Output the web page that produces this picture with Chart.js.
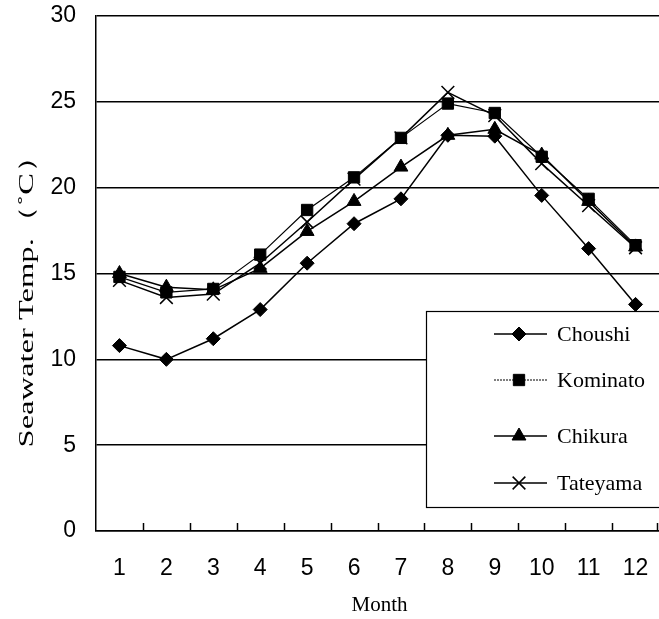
<!DOCTYPE html>
<html>
<head>
<meta charset="utf-8">
<script src="https://cdn.jsdelivr.net/npm/chart.js@4.4.1/dist/chart.umd.min.js"></script>
<style>
  html, body { margin: 0; padding: 0; background: #fff; }
  #wrap { width: 659px; height: 619px; position: relative; }
</style>
</head>
<body>
<div id="wrap"><canvas id="c" width="659" height="619"></canvas></div>
<script>
const months = ['1','2','3','4','5','6','7','8','9','10','11','12'];
const choushi  = [10.8, 10.0, 11.2, 12.9, 15.6, 17.9, 19.35, 23.05, 23.0, 19.55, 16.45, 13.2];
const kominato = [14.8, 13.9, 14.1, 16.1, 18.7, 20.6, 22.9, 24.9, 24.35, 21.8, 19.35, 16.65];
const chikura  = [15.0, 14.2, 14.05, 15.3, 17.45, 19.2, 21.2, 23.05, 23.4, 21.9, 19.2, 16.55];
const tateyama = [14.6, 13.6, 13.8, 15.6, 18.0, 20.5, 22.9, 25.55, 24.2, 21.4, 18.95, 16.5];
const seriesNames = ['Choushi', 'Kominato', 'Chikura', 'Tateyama'];
const yTicks = [0, 5, 10, 15, 20, 25, 30];
const yTitle = 'Seawater Temp.\uFF08\u02DAC\uFF09';
const xTitle = 'Month';

const black = '#000';
function ds(label, data, style, radius, lw, bw) {
  return {
    label, data,
    borderColor: black, backgroundColor: black,
    borderWidth: lw, pointStyle: style, pointRadius: radius, pointHoverRadius: radius,
    pointBorderWidth: bw, pointBackgroundColor: black, pointBorderColor: black,
    tension: 0, fill: false
  };
}

const customPlugin = {
  id: 'custom',
  afterDatasetsDraw(chart) {
    const ctx = chart.ctx;
    const x = chart.scales.x;
    const area = chart.chartArea;
    ctx.save();
    // inward tick marks at category boundaries
    ctx.strokeStyle = black; ctx.lineWidth = 1.5;
    for (let i = 0; i < months.length; i++) {
      const px = (i < months.length - 1)
        ? (x.getPixelForValue(i) + x.getPixelForValue(i + 1)) / 2
        : area.right - 2;
      ctx.beginPath(); ctx.moveTo(Math.round(px) + 0.5, area.bottom); ctx.lineTo(Math.round(px) + 0.5, area.bottom - 8); ctx.stroke();
    }
    // legend box
    const bx = 426, by = 311, bw = 240, bh = 196;
    ctx.fillStyle = '#fff';
    ctx.fillRect(bx, by, bw, bh);
    ctx.lineWidth = 1.2; ctx.strokeStyle = black;
    ctx.strokeRect(bx + 0.5, by + 0.5, bw, bh);
    const rows = [334, 380, 436, 483];
    ctx.font = '22px "Liberation Serif", "Times New Roman", serif';
    ctx.textBaseline = 'middle'; ctx.textAlign = 'left';
    chart.data.datasets.forEach((d, i) => {
      const ry = rows[i];
      ctx.strokeStyle = black; ctx.lineWidth = d.borderWidth;
      if (i === 1) ctx.setLineDash([2, 1]);
      ctx.beginPath(); ctx.moveTo(494, ry); ctx.lineTo(547, ry); ctx.stroke();
      ctx.setLineDash([]);
      ctx.fillStyle = black; ctx.strokeStyle = black; ctx.lineWidth = d.pointBorderWidth;
      Chart.helpers.drawPoint(ctx, {pointStyle: d.pointStyle, radius: d.pointRadius, borderWidth: d.pointBorderWidth, rotation: 0}, 519, ry);
      ctx.fillStyle = black;
      ctx.fillText(seriesNames[i], 557, ry + 1);
    });
    // axis titles
    ctx.fillStyle = black;
    ctx.font = '21px "Liberation Serif", "Times New Roman", serif';
    ctx.textAlign = 'center'; ctx.textBaseline = 'middle';
    ctx.fillText(xTitle, (area.left + area.right) / 2 + 2, 605);
    ctx.translate(27, 294);
    ctx.rotate(-Math.PI / 2);
    ctx.scale(1.55, 1);
    ctx.fillText(yTitle, 0, 0);
    ctx.restore();
  }
};

new Chart(document.getElementById('c'), {
  type: 'line',
  data: {
    labels: months,
    datasets: [
      ds(seriesNames[0], choushi, 'rectRot', 7, 1.5, 1),
      ds(seriesNames[1], kominato, 'rect', 8, 1.2, 1),
      ds(seriesNames[2], chikura, 'triangle', 8, 1.5, 1),
      ds(seriesNames[3], tateyama, 'crossRot', 9, 1.5, 1.5)
    ]
  },
  options: {
    responsive: false,
    animation: false,
    devicePixelRatio: 1,
    layout: { autoPadding: false, padding: { top: 16, right: 0, left: 0, bottom: 0 } },
    plugins: { legend: { display: false }, tooltip: { enabled: false }, title: { display: false } },
    scales: {
      x: {
        type: 'category',
        offset: true,
        grid: { display: true, drawOnChartArea: false, drawTicks: true, tickLength: 20, tickColor: 'rgba(0,0,0,0)' },
        border: { display: true, color: black, width: 1.5 },
        ticks: {
          color: black, padding: 4,
          font: { family: '"Liberation Sans", Arial, sans-serif', size: 23 },
          maxRotation: 0, autoSkip: false
        },
        afterFit(s) { s.height = 88; s.paddingLeft = 0; s.paddingRight = 0; }
      },
      y: {
        min: 0, max: 30,
        afterBuildTicks(s) { s.ticks = yTicks.map(v => ({ value: v })); },
        grid: { color: black, lineWidth: 1.5, drawTicks: false },
        border: { display: true, color: black, width: 1.5 },
        ticks: {
          color: black, padding: 20,
          font: { family: '"Liberation Sans", Arial, sans-serif', size: 23 }
        },
        afterFit(s) { s.width = 96; s.paddingTop = 0; s.paddingBottom = 0; }
      }
    }
  },
  plugins: [customPlugin]
});
</script>
</body>
</html>
